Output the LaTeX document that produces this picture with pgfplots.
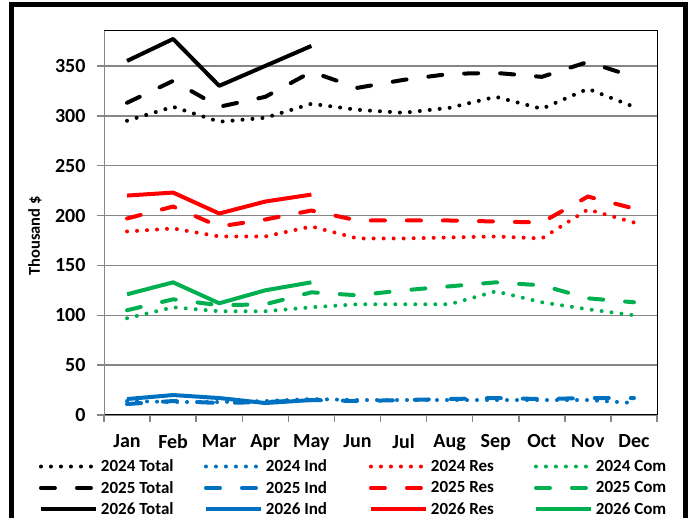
\documentclass[border=0pt]{standalone}
\usepackage{pgfplots}
\pgfplotsset{compat=1.18}
\usepackage{pgfplotstable}
\usepackage{fontspec}
\setmainfont{Carlito}
\definecolor{xblue}{RGB}{0,112,192}
\definecolor{xred}{RGB}{255,0,0}
\definecolor{xgreen}{RGB}{0,176,80}
\definecolor{xgrid}{RGB}{134,134,134}

% month index 0=Jan ... 11=Dec
\pgfplotstableread{
m tot ind res com
0 295 14 184 97
1 309 13 187 108
2 294 13 179 104
3 298 14 179 104
4 312 16 189 108
5 306 15 177 111
6 303 15 177 111
7 308 15 178 111
8 319 15 179 124
9 307 15 177 113
10 327 15 206 106
11 309 12 193 100
}\dataA
\pgfplotstableread{
m tot ind res com
0 313 11 197 105
1 335 14 209 116
2 309 12 189 110
3 319 13 196 111
4 344 15 205 123
5 328 14 195 120
6 336 15 195 125
7 342 16 195 129
8 343 17 194 133
9 339 16 193 130
10 354 17 219 117
11 339 17 207 113
}\dataB
\pgfplotstableread{
m tot ind res com
0 355 16 220 121
1 377 20 223 133
2 330 17 202 112
3 350 12 214 125
4 370 15 221 133
}\dataC

\tikzset{
  dotl/.style={line width=4pt, line cap=round, dash pattern=on 0pt off 10pt},
  dashl/.style={line width=4pt, line cap=round, dash pattern=on 14pt off 22pt},
  solidl/.style={line width=4pt, line cap=butt, line join=round}
}

\begin{document}
\begin{tikzpicture}[x=1pt,y=1pt]
\useasboundingbox (0,0) rectangle (693,518);
\draw[line width=5pt] (11.5,513.5) rectangle (685,-20);
\begin{axis}[
  at={(104pt,103pt)}, anchor=south west,
  scale only axis, width=553pt, height=384pt,
  xmin=-0.5, xmax=11.5, ymin=0, ymax=385,
  xtick={-0.5,0.5,...,11.5},
  x tick label as interval,
  xticklabels={Jan,Feb,Mar,Apr,May,Jun,Jul,Aug,Sep,Oct,Nov,Dec},
  ytick={0,50,...,350},
  ymajorgrids,
  grid style={xgrid, line width=1.5pt},
  tick pos=left, tick align=outside,
  major tick length=7pt,
  tick style={xgrid, line width=1.5pt},
  axis line style={black, line width=1pt},
  ticklabel style={font=\bfseries\fontsize{20}{20}\selectfont},
  xticklabel style={yshift=-9pt},
  yticklabel style={xshift=-8pt},
  /pgf/number format/assume math mode=true,
  ylabel={Thousand \$},
  ylabel style={font=\bfseries\fontsize{16.5}{16.5}\selectfont, at={(axis description cs:-0.125,0.466)}, anchor=center},
  legend columns=4,
  legend cell align=left,
  legend style={at={(axis description cs:-0.118,-0.111)}, anchor=north west, draw=none, fill=none,
    font=\bfseries\fontsize{17}{17}\selectfont, inner sep=0pt, row sep=4pt,
    /tikz/every odd column/.append style={column sep=1pt}},
  legend image code/.code={\draw[#1] (0pt,0pt) -- (55pt,0pt);},
]
\draw[xgrid, line width=1.5pt] (rel axis cs:0,0) -- (rel axis cs:0,1);
\addplot[black, dotl] table[x=m,y=tot] {\dataA};
\addlegendentry{\makebox[101pt][l]{2024 Total}}
\addplot[xblue, dotl] table[x=m,y=ind] {\dataA};
\addlegendentry{\makebox[101pt][l]{2024 Ind}}
\addplot[xred, dotl] table[x=m,y=res] {\dataA};
\addlegendentry{\makebox[101pt][l]{2024 Res}}
\addplot[xgreen, dotl] table[x=m,y=com] {\dataA};
\addlegendentry{\makebox[101pt][l]{2024 Com}}
\addplot[black, dashl] table[x=m,y=tot] {\dataB};
\addlegendentry{\makebox[101pt][l]{2025 Total}}
\addplot[xblue, dashl] table[x=m,y=ind] {\dataB};
\addlegendentry{\makebox[101pt][l]{2025 Ind}}
\addplot[xred, dashl] table[x=m,y=res] {\dataB};
\addlegendentry{\makebox[101pt][l]{2025 Res}}
\addplot[xgreen, dashl] table[x=m,y=com] {\dataB};
\addlegendentry{\makebox[101pt][l]{2025 Com}}
\addplot[black, solidl] table[x=m,y=tot] {\dataC};
\addlegendentry{\makebox[101pt][l]{2026 Total}}
\addplot[xblue, solidl] table[x=m,y=ind] {\dataC};
\addlegendentry{\makebox[101pt][l]{2026 Ind}}
\addplot[xred, solidl] table[x=m,y=res] {\dataC};
\addlegendentry{\makebox[101pt][l]{2026 Res}}
\addplot[xgreen, solidl] table[x=m,y=com] {\dataC};
\addlegendentry{\makebox[101pt][l]{2026 Com}}
\end{axis}
\end{tikzpicture}
\end{document}
